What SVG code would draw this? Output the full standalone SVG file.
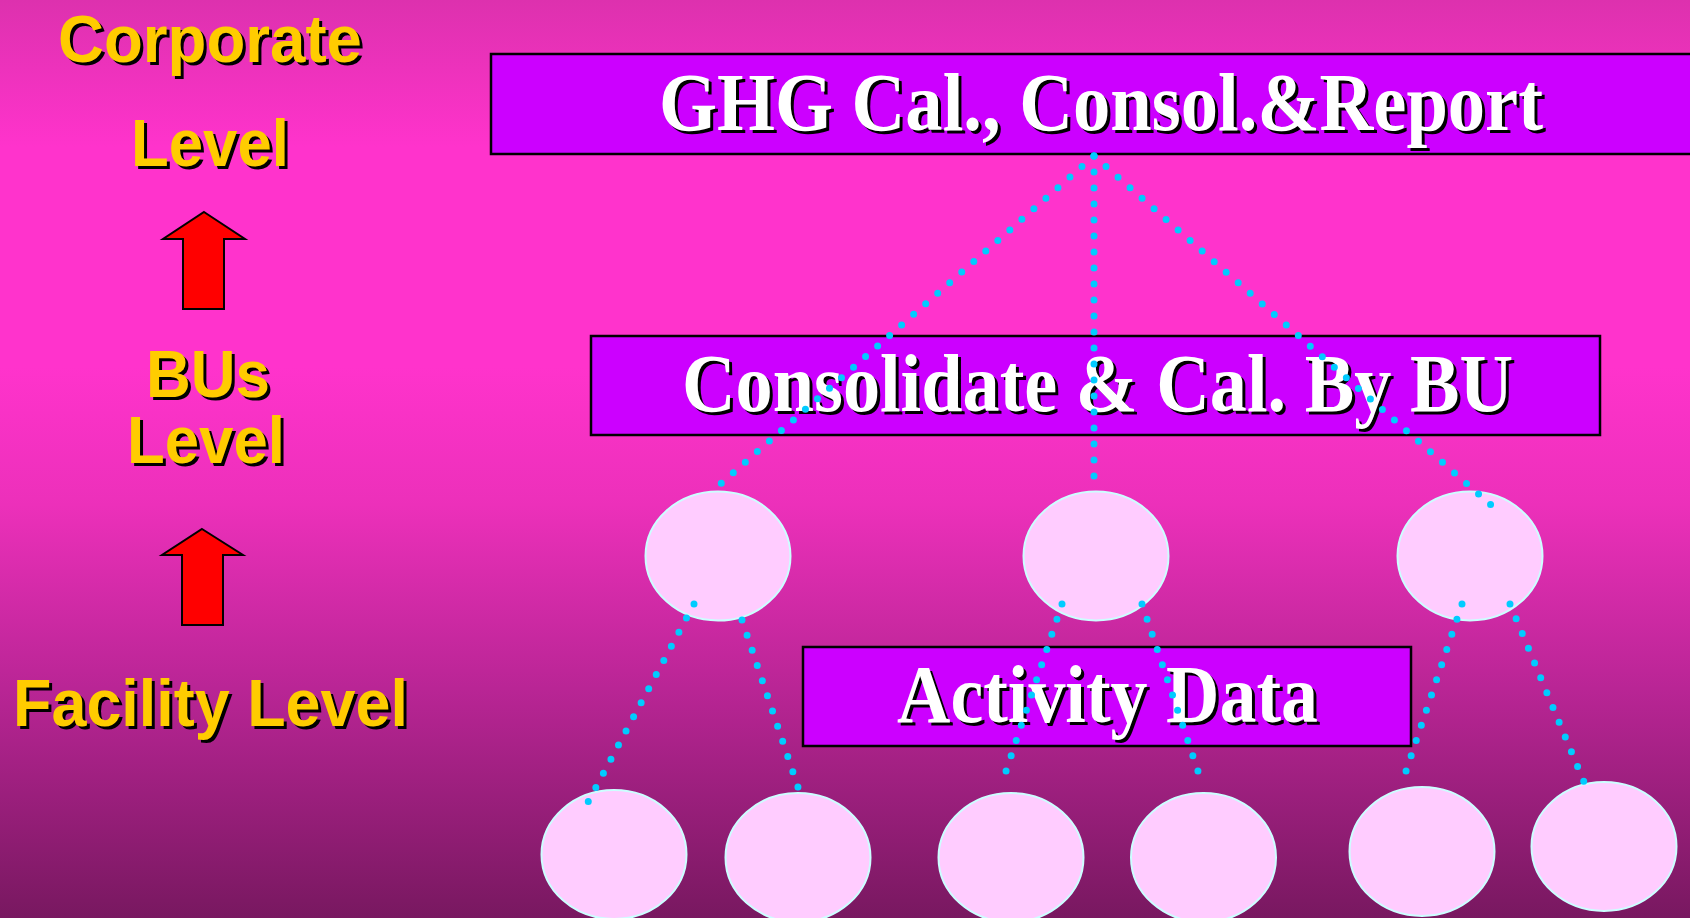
<svg xmlns="http://www.w3.org/2000/svg" width="1690" height="918" viewBox="0 0 1690 918">
<defs>
<linearGradient id="bg" x1="0" y1="0" x2="0" y2="1">
<stop offset="0" stop-color="#dd31ae"/>
<stop offset="0.16" stop-color="#ff33cc"/>
<stop offset="0.40" stop-color="#ff33cc"/>
<stop offset="0.55" stop-color="#ec30ba"/>
<stop offset="0.75" stop-color="#b92595"/>
<stop offset="1" stop-color="#781860"/>
</linearGradient>
</defs>
<style>
.box{fill:#cc00ff;stroke:#000;stroke-width:2.5}
.ell{fill:#ffccff;stroke:#ccffff;stroke-width:2}
.arr{fill:#ff0000;stroke:#000;stroke-width:2;stroke-linejoin:miter}
.ser{font-family:"Liberation Serif","Times New Roman",serif;font-weight:bold;font-size:82px}
.san{font-family:"Liberation Sans",Arial,sans-serif;font-weight:bold;font-size:67px}
.wt{fill:#ffffff}
.yl{fill:#ffcc00}
.sh{fill:#000000}
.dot{fill:none;stroke:#00ccff;stroke-width:7;stroke-linecap:round;stroke-dasharray:0 16}
</style>
<rect x="0" y="0" width="1690" height="918" fill="url(#bg)"/>

<g id="label-corporate">
<text class="san sh" x="61" y="65" textLength="304" lengthAdjust="spacingAndGlyphs">Corporate</text>
<text class="san yl" x="58" y="62" textLength="304" lengthAdjust="spacingAndGlyphs">Corporate</text>
<text class="san sh" x="134" y="169" textLength="158" lengthAdjust="spacingAndGlyphs">Level</text>
<text class="san yl" x="131" y="166" textLength="158" lengthAdjust="spacingAndGlyphs">Level</text>
</g>
<g id="arrow-1">
<polygon class="arr" points="204,212 245,239 224,239 224,309 183,309 183,239 163,239"/>
</g>
<g id="label-bus">
<text class="san sh" x="149" y="400" textLength="124" lengthAdjust="spacingAndGlyphs">BUs</text>
<text class="san yl" x="146" y="397" textLength="124" lengthAdjust="spacingAndGlyphs">BUs</text>
<text class="san sh" x="130" y="466" textLength="158" lengthAdjust="spacingAndGlyphs">Level</text>
<text class="san yl" x="127" y="463" textLength="158" lengthAdjust="spacingAndGlyphs">Level</text>
</g>
<g id="arrow-2">
<polygon class="arr" points="202,529 243,555 223,555 223,625 182,625 182,555 162,555"/>
</g>
<g id="label-facility">
<text class="san sh" x="16" y="729" textLength="395" lengthAdjust="spacingAndGlyphs">Facility Level</text>
<text class="san yl" x="13" y="726" textLength="395" lengthAdjust="spacingAndGlyphs">Facility Level</text>
</g>

<g id="node-ghg">
<rect class="box" x="491" y="54" width="1220" height="100"/>
<text class="ser sh" x="662" y="133" textLength="884" lengthAdjust="spacingAndGlyphs">GHG Cal., Consol.&amp;Report</text>
<text class="ser wt" x="659" y="130" textLength="884" lengthAdjust="spacingAndGlyphs">GHG Cal., Consol.&amp;Report</text>
</g>
<g id="node-bu">
<rect class="box" x="591" y="336" width="1009" height="99"/>
<text class="ser sh" x="685" y="414" textLength="831" lengthAdjust="spacingAndGlyphs">Consolidate &amp; Cal. By BU</text>
<text class="ser wt" x="682" y="411" textLength="831" lengthAdjust="spacingAndGlyphs">Consolidate &amp; Cal. By BU</text>
</g>
<g id="node-activity">
<rect class="box" x="803" y="647" width="608" height="99"/>
<text class="ser sh" x="900" y="725" textLength="421" lengthAdjust="spacingAndGlyphs">Activity Data</text>
<text class="ser wt" x="897" y="722" textLength="421" lengthAdjust="spacingAndGlyphs">Activity Data</text>
</g>

<g id="bu-1"><ellipse class="ell" cx="718" cy="556" rx="72.5" ry="64.5"/></g>
<g id="bu-2"><ellipse class="ell" cx="1096" cy="556" rx="72.5" ry="64.5"/></g>
<g id="bu-3"><ellipse class="ell" cx="1470" cy="556" rx="72.5" ry="64.5"/></g>

<g id="facility-1"><ellipse class="ell" cx="614" cy="854.5" rx="72.5" ry="64.5"/></g>
<g id="facility-2"><ellipse class="ell" cx="798" cy="857.5" rx="72.5" ry="64.5"/></g>
<g id="facility-3"><ellipse class="ell" cx="1011" cy="857.5" rx="72.5" ry="64.5"/></g>
<g id="facility-4"><ellipse class="ell" cx="1203.5" cy="857.5" rx="72.5" ry="64.5"/></g>
<g id="facility-5"><ellipse class="ell" cx="1422" cy="851.5" rx="72.5" ry="64.5"/></g>
<g id="facility-6"><ellipse class="ell" cx="1604" cy="846.5" rx="72.5" ry="64.5"/></g>

<g id="connectors">
<path class="dot" d="M1094 156 L717 487"/>
<path class="dot" d="M1094 156 L1094 480"/>
<path class="dot" d="M1094 156 L1491 505"/>
<path class="dot" d="M694 604 L588 802"/>
<path class="dot" d="M742 620 L803 802"/>
<path class="dot" d="M1062 604 L1001 786"/>
<path class="dot" d="M1142 604 L1203 786"/>
<path class="dot" d="M1462 604 L1401 786"/>
<path class="dot" d="M1510 604 L1584 782"/>
</g>
</svg>
